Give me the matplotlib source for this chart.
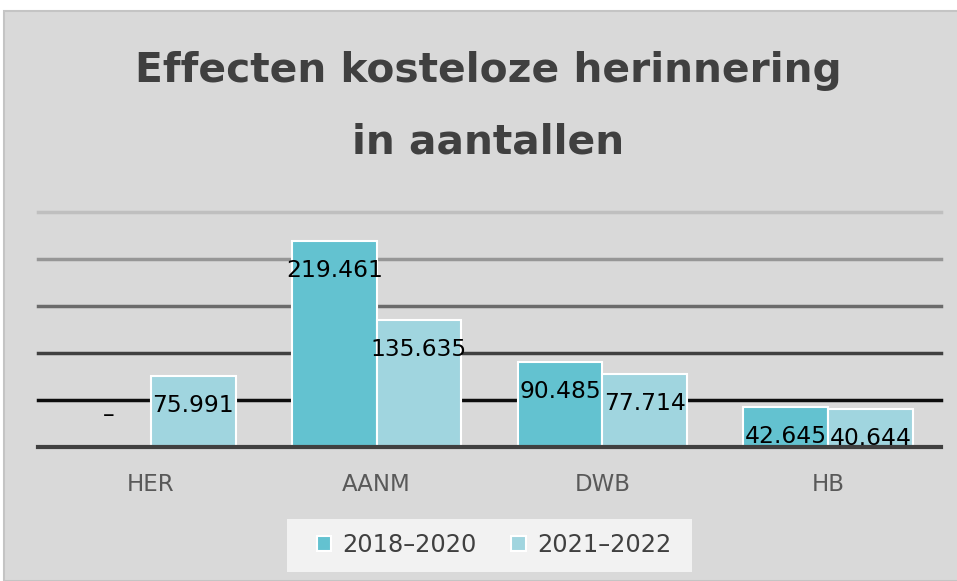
import numpy as np
import matplotlib
matplotlib.use('Agg')
import matplotlib.pyplot as plt
from matplotlib.patches import Rectangle

categories = ['HER', 'AANM', 'DWB', 'HB']
series_names = ['2018–2020', '2021–2022']
vals_2018 = [0, 219461, 90485, 42645]
vals_2021 = [75991, 135635, 77714, 40644]
labels_2018 = ['–', '219.461', '90.485', '42.645']
labels_2021 = ['75.991', '135.635', '77.714', '40.644']
yticks = [0, 50000, 100000, 150000, 200000, 250000]

col_a = '#63c2d0'
col_b = '#a0d5df'
grid_cols = ['#404040', '#0d0d0d', '#404040', '#6b6b6b', '#969696', '#bfbfbf']

plt.rcParams['font.family'] = ['DejaVu Sans']
W, H = 957, 581
fig = plt.figure(figsize=(W / 100, H / 100), dpi=100, facecolor='white')

# chart area background
fig.patches.append(Rectangle((4 / W, 0), 1.0, (H - 11) / H, transform=fig.transFigure,
                             facecolor='#d9d9d9', edgecolor='#c4c4c4', linewidth=1.5, zorder=-5))
# legend box
fig.patches.append(Rectangle((287 / W, (H - 572) / H), 405 / W, 53 / H, transform=fig.transFigure,
                             facecolor='#f2f2f2', edgecolor='none', zorder=-4))

ax = fig.add_axes([38 / W, (H - 447) / H, (941 - 38) / W, (447 - 212) / H])
ax.set_zorder(2)
ax.set_facecolor('none')

x = np.arange(len(categories))
w = 0.375
b1 = ax.bar(x - w / 2, vals_2018, w, color=col_a, edgecolor='white', linewidth=1.5,
            label=series_names[0], zorder=3)
b2 = ax.bar(x + w / 2, vals_2021, w, color=col_b, edgecolor='white', linewidth=1.5,
            label=series_names[1], zorder=3)

for i, t in enumerate(yticks[1:], start=1):
    ax.axhline(t, color=grid_cols[i], linewidth=2.5, zorder=1, clip_on=False)

for bars, labs in ((b1, labels_2018), (b2, labels_2021)):
    for rect, lab in zip(bars, labs):
        h = rect.get_height()
        off = -30 if h > 0 else 32
        ax.annotate(lab, (rect.get_x() + rect.get_width() / 2, h),
                    xytext=(0, off), textcoords='offset pixels', ha='center', va='center',
                    fontsize=16.8, color='black', zorder=5)

ax.set_xlim(-0.5, 3.5)
ax.set_ylim(0, 250000)
ax.set_yticks([])
ax.set_xticks(x)
ax.set_xticklabels(categories, fontsize=16.5, color='#595959')
ax.tick_params(axis='x', length=0, pad=19)
for s in ['top', 'left', 'right']:
    ax.spines[s].set_visible(False)
ax.spines['bottom'].set_color('#404040')
ax.spines['bottom'].set_linewidth(3)
ax.spines['bottom'].set_zorder(4)

fig.text(488 / W, 1 - 71 / H, 'Effecten kosteloze herinnering', ha='center', va='center',
         fontsize=29.3, fontweight='bold', color='#404040')
fig.text(488 / W, 1 - 142 / H, 'in aantallen', ha='center', va='center',
         fontsize=29.3, fontweight='bold', color='#404040')

leg = fig.legend(handles=[b1, b2], loc='center', bbox_to_anchor=(494 / W, 1 - 545 / H),
                 ncol=2, frameon=False, fontsize=17.3, handlelength=0.6, handleheight=0.6,
                 handletextpad=0.47, columnspacing=1.45, borderpad=0.2)
for t in leg.get_texts():
    t.set_color('#404040')

fig.savefig('out.png', dpi=100, facecolor='white')
